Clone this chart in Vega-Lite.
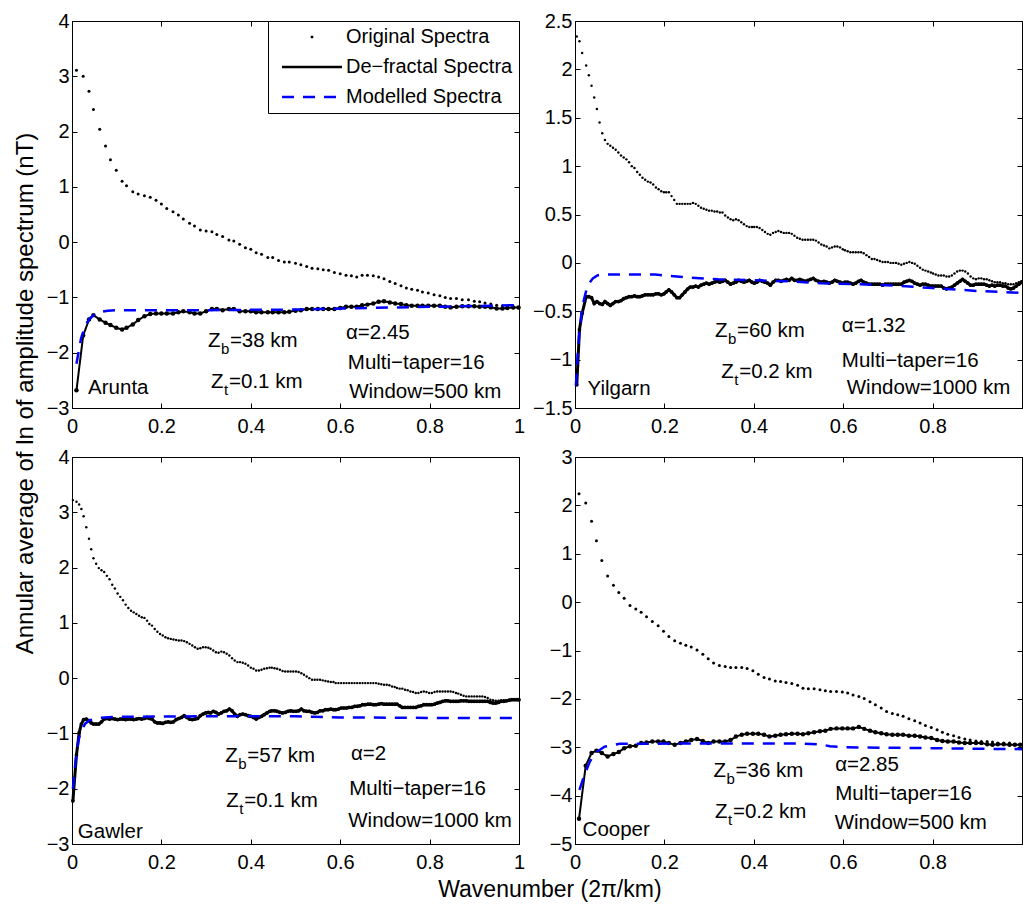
{
"$schema": "https://vega.github.io/schema/vega-lite/v6.json",
"padding": {"left": 13, "top": 10, "right": 0, "bottom": 0},
"background": "white",
"config": {
 "view": {"stroke": "black", "strokeWidth": 1},
 "font": "Liberation Sans",
 "axis": {"domainColor": "black", "domainWidth": 1, "tickColor": "black", "tickSize": -5, "tickWidth": 1, "labelColor": "black", "labelFont": "Liberation Sans", "labelFontSize": 20, "grid": false, "labelFlush": false, "labelOverlap": false, "labelBound": false},
 "axisX": {"labelPadding": 13},
 "axisY": {"labelPadding": 8},
 "title": {"font": "Liberation Sans", "fontSize": 23, "fontWeight": "normal", "color": "black"},
 "text": {"font": "Liberation Sans", "color": "black"}
},
"datasets": {
 "A": [
  {"x":0.010,"o":3.11,"d":-2.68},{"x":0.025,"o":3.00,"d":-1.69},{"x":0.038,"o":2.73,"d":-1.40},{"x":0.048,"o":2.40,"d":-1.32},{"x":0.062,"o":2.04,"d":-1.40},{"x":0.075,"o":1.74,"d":-1.46},{"x":0.086,"o":1.49,"d":-1.50},{"x":0.099,"o":1.30,"d":-1.55},{"x":0.112,"o":1.10,"d":-1.58},{"x":0.122,"o":1.02,"d":-1.55},{"x":0.136,"o":0.91,"d":-1.49},{"x":0.148,"o":0.87,"d":-1.41},{"x":0.162,"o":0.84,"d":-1.34},{"x":0.175,"o":0.81,"d":-1.30},{"x":0.188,"o":0.76,"d":-1.29},{"x":0.200,"o":0.69,"d":-1.29},{"x":0.212,"o":0.61,"d":-1.29},{"x":0.226,"o":0.55,"d":-1.29},{"x":0.238,"o":0.49,"d":-1.27},{"x":0.249,"o":0.42,"d":-1.25},{"x":0.263,"o":0.34,"d":-1.27},{"x":0.274,"o":0.29,"d":-1.29},{"x":0.287,"o":0.22,"d":-1.29},{"x":0.300,"o":0.20,"d":-1.25},{"x":0.313,"o":0.19,"d":-1.21},{"x":0.324,"o":0.14,"d":-1.21},{"x":0.337,"o":0.10,"d":-1.23},{"x":0.351,"o":0.04,"d":-1.21},{"x":0.362,"o":0.02,"d":-1.21},{"x":0.375,"o":-0.04,"d":-1.25},{"x":0.388,"o":-0.10,"d":-1.25},{"x":0.400,"o":-0.13,"d":-1.25},{"x":0.412,"o":-0.19,"d":-1.27},{"x":0.424,"o":-0.22,"d":-1.27},{"x":0.438,"o":-0.28,"d":-1.27},{"x":0.449,"o":-0.28,"d":-1.27},{"x":0.462,"o":-0.33,"d":-1.27},{"x":0.475,"o":-0.36,"d":-1.27},{"x":0.486,"o":-0.36,"d":-1.26},{"x":0.500,"o":-0.38,"d":-1.24},{"x":0.512,"o":-0.41,"d":-1.23},{"x":0.525,"o":-0.44,"d":-1.21},{"x":0.537,"o":-0.47,"d":-1.21},{"x":0.550,"o":-0.48,"d":-1.21},{"x":0.562,"o":-0.50,"d":-1.21},{"x":0.574,"o":-0.51,"d":-1.21},{"x":0.587,"o":-0.55,"d":-1.21},{"x":0.600,"o":-0.57,"d":-1.19},{"x":0.613,"o":-0.60,"d":-1.17},{"x":0.625,"o":-0.61,"d":-1.17},{"x":0.637,"o":-0.63,"d":-1.17},{"x":0.649,"o":-0.60,"d":-1.14},{"x":0.661,"o":-0.60,"d":-1.13},{"x":0.674,"o":-0.61,"d":-1.11},{"x":0.686,"o":-0.63,"d":-1.08},{"x":0.698,"o":-0.66,"d":-1.07},{"x":0.711,"o":-0.71,"d":-1.09},{"x":0.723,"o":-0.75,"d":-1.11},{"x":0.736,"o":-0.79,"d":-1.12},{"x":0.748,"o":-0.83,"d":-1.14},{"x":0.760,"o":-0.85,"d":-1.15},{"x":0.773,"o":-0.87,"d":-1.15},{"x":0.784,"o":-0.90,"d":-1.15},{"x":0.797,"o":-0.92,"d":-1.15},{"x":0.810,"o":-0.95,"d":-1.15},{"x":0.823,"o":-0.97,"d":-1.15},{"x":0.835,"o":-1.00,"d":-1.17},{"x":0.847,"o":-1.02,"d":-1.18},{"x":0.860,"o":-1.02,"d":-1.17},{"x":0.873,"o":-1.04,"d":-1.16},{"x":0.887,"o":-1.04,"d":-1.16},{"x":0.900,"o":-1.07,"d":-1.16},{"x":0.912,"o":-1.08,"d":-1.17},{"x":0.924,"o":-1.10,"d":-1.17},{"x":0.937,"o":-1.12,"d":-1.18},{"x":0.950,"o":-1.14,"d":-1.20},{"x":0.963,"o":-1.15,"d":-1.20},{"x":0.974,"o":-1.17,"d":-1.19},{"x":0.987,"o":-1.19,"d":-1.18},{"x":0.999,"o":-1.19,"d":-1.18}
 ],
 "Am": [{"x":0.01,"m":-2.2},{"x":0.02,"m":-1.75},{"x":0.03,"m":-1.5},{"x":0.04,"m":-1.38},{"x":0.05,"m":-1.31},{"x":0.06,"m":-1.27},{"x":0.08,"m":-1.24},{"x":0.1,"m":-1.23},{"x":0.3,"m":-1.23},{"x":0.5,"m":-1.22},{"x":0.6,"m":-1.2},{"x":0.8,"m":-1.17},{"x":1.0,"m":-1.14}],
 "At": [{"x":0.613,"y":-1.65,"t":"α=2.45"},{"x":0.617,"y":-2.18,"t":"Multi−taper=16"},{"x":0.62,"y":-2.71,"t":"Window=500 km"},{"x":0.036,"y":-2.64,"t":"Arunta"}],
 "Az": [{"x":0.304,"y":-1.79,"s":"b","r":"=38 km"},{"x":0.311,"y":-2.53,"s":"t","r":"=0.1 km"}],
 "Y": [
  {"x":0.004,"o":2.34,"d":-1.26},{"x":0.010,"o":2.29,"d":-0.69},{"x":0.016,"o":2.17,"d":-0.52},{"x":0.025,"o":2.04,"d":-0.35},{"x":0.031,"o":1.94,"d":-0.35},{"x":0.037,"o":1.83,"d":-0.36},{"x":0.043,"o":1.71,"d":-0.42},{"x":0.049,"o":1.59,"d":-0.40},{"x":0.055,"o":1.45,"d":-0.42},{"x":0.061,"o":1.34,"d":-0.43},{"x":0.067,"o":1.27,"d":-0.40},{"x":0.073,"o":1.23,"d":-0.42},{"x":0.079,"o":1.21,"d":-0.44},{"x":0.085,"o":1.19,"d":-0.42},{"x":0.091,"o":1.17,"d":-0.40},{"x":0.097,"o":1.14,"d":-0.40},{"x":0.103,"o":1.11,"d":-0.39},{"x":0.109,"o":1.09,"d":-0.37},{"x":0.115,"o":1.07,"d":-0.36},{"x":0.121,"o":1.04,"d":-0.35},{"x":0.127,"o":1.00,"d":-0.35},{"x":0.133,"o":0.98,"d":-0.34},{"x":0.139,"o":0.94,"d":-0.35},{"x":0.145,"o":0.91,"d":-0.35},{"x":0.151,"o":0.88,"d":-0.34},{"x":0.157,"o":0.86,"d":-0.33},{"x":0.163,"o":0.84,"d":-0.33},{"x":0.169,"o":0.83,"d":-0.33},{"x":0.175,"o":0.81,"d":-0.33},{"x":0.181,"o":0.78,"d":-0.32},{"x":0.187,"o":0.76,"d":-0.32},{"x":0.193,"o":0.74,"d":-0.33},{"x":0.199,"o":0.73,"d":-0.32},{"x":0.204,"o":0.73,"d":-0.30},{"x":0.210,"o":0.73,"d":-0.28},{"x":0.216,"o":0.69,"d":-0.30},{"x":0.222,"o":0.65,"d":-0.33},{"x":0.228,"o":0.61,"d":-0.36},{"x":0.234,"o":0.61,"d":-0.36},{"x":0.240,"o":0.61,"d":-0.33},{"x":0.246,"o":0.61,"d":-0.30},{"x":0.252,"o":0.61,"d":-0.27},{"x":0.258,"o":0.61,"d":-0.25},{"x":0.264,"o":0.62,"d":-0.25},{"x":0.270,"o":0.61,"d":-0.24},{"x":0.276,"o":0.59,"d":-0.25},{"x":0.282,"o":0.57,"d":-0.23},{"x":0.288,"o":0.56,"d":-0.22},{"x":0.294,"o":0.55,"d":-0.21},{"x":0.300,"o":0.54,"d":-0.22},{"x":0.306,"o":0.54,"d":-0.21},{"x":0.312,"o":0.53,"d":-0.20},{"x":0.318,"o":0.53,"d":-0.19},{"x":0.324,"o":0.52,"d":-0.20},{"x":0.330,"o":0.52,"d":-0.19},{"x":0.336,"o":0.49,"d":-0.18},{"x":0.342,"o":0.47,"d":-0.20},{"x":0.348,"o":0.45,"d":-0.22},{"x":0.354,"o":0.44,"d":-0.21},{"x":0.360,"o":0.45,"d":-0.20},{"x":0.366,"o":0.44,"d":-0.18},{"x":0.372,"o":0.42,"d":-0.19},{"x":0.378,"o":0.40,"d":-0.20},{"x":0.384,"o":0.38,"d":-0.19},{"x":0.390,"o":0.37,"d":-0.18},{"x":0.396,"o":0.37,"d":-0.20},{"x":0.401,"o":0.37,"d":-0.21},{"x":0.407,"o":0.37,"d":-0.20},{"x":0.413,"o":0.36,"d":-0.18},{"x":0.419,"o":0.34,"d":-0.19},{"x":0.425,"o":0.32,"d":-0.20},{"x":0.431,"o":0.30,"d":-0.21},{"x":0.437,"o":0.29,"d":-0.23},{"x":0.443,"o":0.31,"d":-0.20},{"x":0.449,"o":0.32,"d":-0.18},{"x":0.455,"o":0.33,"d":-0.18},{"x":0.461,"o":0.32,"d":-0.19},{"x":0.467,"o":0.31,"d":-0.18},{"x":0.473,"o":0.31,"d":-0.17},{"x":0.479,"o":0.31,"d":-0.18},{"x":0.485,"o":0.30,"d":-0.16},{"x":0.491,"o":0.28,"d":-0.18},{"x":0.497,"o":0.26,"d":-0.18},{"x":0.503,"o":0.25,"d":-0.17},{"x":0.509,"o":0.24,"d":-0.18},{"x":0.515,"o":0.24,"d":-0.19},{"x":0.521,"o":0.24,"d":-0.18},{"x":0.527,"o":0.24,"d":-0.17},{"x":0.533,"o":0.24,"d":-0.16},{"x":0.539,"o":0.23,"d":-0.18},{"x":0.545,"o":0.21,"d":-0.19},{"x":0.551,"o":0.19,"d":-0.20},{"x":0.557,"o":0.18,"d":-0.19},{"x":0.563,"o":0.17,"d":-0.20},{"x":0.569,"o":0.15,"d":-0.21},{"x":0.575,"o":0.16,"d":-0.20},{"x":0.581,"o":0.17,"d":-0.18},{"x":0.587,"o":0.17,"d":-0.19},{"x":0.593,"o":0.16,"d":-0.20},{"x":0.599,"o":0.14,"d":-0.21},{"x":0.604,"o":0.13,"d":-0.20},{"x":0.610,"o":0.12,"d":-0.20},{"x":0.616,"o":0.11,"d":-0.21},{"x":0.622,"o":0.11,"d":-0.22},{"x":0.628,"o":0.11,"d":-0.21},{"x":0.634,"o":0.11,"d":-0.19},{"x":0.640,"o":0.11,"d":-0.18},{"x":0.646,"o":0.10,"d":-0.20},{"x":0.652,"o":0.08,"d":-0.21},{"x":0.658,"o":0.06,"d":-0.22},{"x":0.664,"o":0.04,"d":-0.22},{"x":0.670,"o":0.04,"d":-0.22},{"x":0.676,"o":0.03,"d":-0.22},{"x":0.682,"o":0.02,"d":-0.22},{"x":0.688,"o":0.01,"d":-0.23},{"x":0.694,"o":0.01,"d":-0.22},{"x":0.700,"o":0.01,"d":-0.22},{"x":0.706,"o":0.00,"d":-0.22},{"x":0.712,"o":0.00,"d":-0.22},{"x":0.718,"o":0.00,"d":-0.22},{"x":0.724,"o":-0.01,"d":-0.22},{"x":0.730,"o":-0.02,"d":-0.22},{"x":0.736,"o":-0.01,"d":-0.20},{"x":0.742,"o":0.00,"d":-0.19},{"x":0.748,"o":0.01,"d":-0.18},{"x":0.754,"o":0.00,"d":-0.19},{"x":0.760,"o":-0.01,"d":-0.21},{"x":0.766,"o":-0.03,"d":-0.22},{"x":0.772,"o":-0.05,"d":-0.23},{"x":0.778,"o":-0.07,"d":-0.22},{"x":0.784,"o":-0.08,"d":-0.22},{"x":0.790,"o":-0.09,"d":-0.23},{"x":0.796,"o":-0.10,"d":-0.24},{"x":0.801,"o":-0.11,"d":-0.24},{"x":0.807,"o":-0.12,"d":-0.24},{"x":0.813,"o":-0.13,"d":-0.24},{"x":0.819,"o":-0.13,"d":-0.24},{"x":0.825,"o":-0.13,"d":-0.26},{"x":0.831,"o":-0.14,"d":-0.27},{"x":0.837,"o":-0.14,"d":-0.26},{"x":0.843,"o":-0.13,"d":-0.25},{"x":0.849,"o":-0.11,"d":-0.23},{"x":0.855,"o":-0.09,"d":-0.21},{"x":0.861,"o":-0.08,"d":-0.19},{"x":0.867,"o":-0.08,"d":-0.17},{"x":0.873,"o":-0.09,"d":-0.19},{"x":0.879,"o":-0.11,"d":-0.21},{"x":0.885,"o":-0.14,"d":-0.23},{"x":0.891,"o":-0.16,"d":-0.23},{"x":0.897,"o":-0.17,"d":-0.22},{"x":0.903,"o":-0.16,"d":-0.22},{"x":0.909,"o":-0.16,"d":-0.22},{"x":0.915,"o":-0.17,"d":-0.22},{"x":0.921,"o":-0.17,"d":-0.23},{"x":0.927,"o":-0.18,"d":-0.24},{"x":0.933,"o":-0.19,"d":-0.23},{"x":0.939,"o":-0.20,"d":-0.24},{"x":0.945,"o":-0.20,"d":-0.23},{"x":0.951,"o":-0.20,"d":-0.23},{"x":0.957,"o":-0.21,"d":-0.24},{"x":0.963,"o":-0.21,"d":-0.24},{"x":0.969,"o":-0.22,"d":-0.26},{"x":0.975,"o":-0.22,"d":-0.27},{"x":0.981,"o":-0.22,"d":-0.26},{"x":0.987,"o":-0.21,"d":-0.24},{"x":0.993,"o":-0.20,"d":-0.22},{"x":0.999,"o":-0.19,"d":-0.20}
 ],
 "Ym": [{"x":0.002,"m":-1.27},{"x":0.006,"m":-0.95},{"x":0.01,"m":-0.71},{"x":0.015,"m":-0.5},{"x":0.02,"m":-0.38},{"x":0.026,"m":-0.27},{"x":0.032,"m":-0.21},{"x":0.04,"m":-0.16},{"x":0.05,"m":-0.13},{"x":0.06,"m":-0.12},{"x":0.1,"m":-0.12},{"x":0.18,"m":-0.12},{"x":0.2,"m":-0.13},{"x":0.25,"m":-0.15},{"x":0.32,"m":-0.17},{"x":0.4,"m":-0.18},{"x":0.48,"m":-0.19},{"x":0.55,"m":-0.21},{"x":0.62,"m":-0.22},{"x":0.7,"m":-0.23},{"x":0.8,"m":-0.26},{"x":0.9,"m":-0.29},{"x":1.0,"m":-0.31}],
 "Yt": [{"x":0.597,"y":-0.65,"t":"α=1.32"},{"x":0.597,"y":-1.01,"t":"Multi−taper=16"},{"x":0.608,"y":-1.29,"t":"Window=1000 km"},{"x":0.028,"y":-1.30,"t":"Yilgarn"}],
 "Yz": [{"x":0.313,"y":-0.70,"s":"b","r":"=60 km"},{"x":0.327,"y":-1.13,"s":"t","r":"=0.2 km"}],
 "G": [
  {"x":0.002,"o":3.22,"d":-2.22},{"x":0.010,"o":3.19,"d":-1.39},{"x":0.016,"o":3.14,"d":-0.99},{"x":0.021,"o":3.06,"d":-0.83},{"x":0.026,"o":2.93,"d":-0.75},{"x":0.032,"o":2.73,"d":-0.74},{"x":0.038,"o":2.52,"d":-0.77},{"x":0.043,"o":2.33,"d":-0.81},{"x":0.048,"o":2.17,"d":-0.83},{"x":0.054,"o":2.07,"d":-0.83},{"x":0.060,"o":1.99,"d":-0.83},{"x":0.066,"o":1.95,"d":-0.79},{"x":0.072,"o":1.92,"d":-0.74},{"x":0.078,"o":1.85,"d":-0.73},{"x":0.084,"o":1.79,"d":-0.74},{"x":0.090,"o":1.69,"d":-0.73},{"x":0.096,"o":1.62,"d":-0.74},{"x":0.102,"o":1.53,"d":-0.75},{"x":0.108,"o":1.47,"d":-0.74},{"x":0.114,"o":1.41,"d":-0.74},{"x":0.120,"o":1.33,"d":-0.75},{"x":0.126,"o":1.27,"d":-0.74},{"x":0.132,"o":1.22,"d":-0.74},{"x":0.138,"o":1.19,"d":-0.75},{"x":0.144,"o":1.16,"d":-0.74},{"x":0.150,"o":1.13,"d":-0.73},{"x":0.156,"o":1.10,"d":-0.74},{"x":0.162,"o":1.09,"d":-0.73},{"x":0.168,"o":1.04,"d":-0.71},{"x":0.173,"o":0.98,"d":-0.73},{"x":0.179,"o":0.95,"d":-0.74},{"x":0.185,"o":0.89,"d":-0.79},{"x":0.191,"o":0.84,"d":-0.81},{"x":0.197,"o":0.80,"d":-0.81},{"x":0.203,"o":0.77,"d":-0.82},{"x":0.209,"o":0.74,"d":-0.80},{"x":0.215,"o":0.72,"d":-0.79},{"x":0.221,"o":0.71,"d":-0.80},{"x":0.227,"o":0.70,"d":-0.79},{"x":0.233,"o":0.69,"d":-0.75},{"x":0.239,"o":0.68,"d":-0.73},{"x":0.245,"o":0.68,"d":-0.71},{"x":0.251,"o":0.67,"d":-0.68},{"x":0.257,"o":0.65,"d":-0.71},{"x":0.263,"o":0.62,"d":-0.74},{"x":0.269,"o":0.59,"d":-0.75},{"x":0.275,"o":0.56,"d":-0.74},{"x":0.281,"o":0.53,"d":-0.73},{"x":0.287,"o":0.54,"d":-0.68},{"x":0.293,"o":0.56,"d":-0.65},{"x":0.299,"o":0.56,"d":-0.63},{"x":0.305,"o":0.55,"d":-0.62},{"x":0.310,"o":0.53,"d":-0.63},{"x":0.316,"o":0.50,"d":-0.60},{"x":0.322,"o":0.47,"d":-0.62},{"x":0.328,"o":0.46,"d":-0.65},{"x":0.334,"o":0.48,"d":-0.63},{"x":0.340,"o":0.47,"d":-0.60},{"x":0.346,"o":0.44,"d":-0.59},{"x":0.352,"o":0.41,"d":-0.56},{"x":0.358,"o":0.36,"d":-0.59},{"x":0.364,"o":0.32,"d":-0.65},{"x":0.370,"o":0.29,"d":-0.69},{"x":0.376,"o":0.29,"d":-0.66},{"x":0.382,"o":0.28,"d":-0.65},{"x":0.388,"o":0.26,"d":-0.66},{"x":0.394,"o":0.23,"d":-0.68},{"x":0.400,"o":0.19,"d":-0.69},{"x":0.406,"o":0.17,"d":-0.71},{"x":0.412,"o":0.14,"d":-0.74},{"x":0.418,"o":0.14,"d":-0.71},{"x":0.424,"o":0.15,"d":-0.69},{"x":0.430,"o":0.17,"d":-0.66},{"x":0.436,"o":0.18,"d":-0.63},{"x":0.442,"o":0.19,"d":-0.60},{"x":0.447,"o":0.19,"d":-0.59},{"x":0.453,"o":0.18,"d":-0.59},{"x":0.459,"o":0.17,"d":-0.60},{"x":0.465,"o":0.15,"d":-0.62},{"x":0.471,"o":0.13,"d":-0.63},{"x":0.477,"o":0.12,"d":-0.62},{"x":0.483,"o":0.12,"d":-0.60},{"x":0.489,"o":0.12,"d":-0.59},{"x":0.495,"o":0.12,"d":-0.60},{"x":0.501,"o":0.12,"d":-0.60},{"x":0.507,"o":0.11,"d":-0.59},{"x":0.513,"o":0.09,"d":-0.56},{"x":0.519,"o":0.06,"d":-0.59},{"x":0.525,"o":0.03,"d":-0.60},{"x":0.531,"o":0.00,"d":-0.60},{"x":0.537,"o":-0.03,"d":-0.62},{"x":0.543,"o":-0.03,"d":-0.63},{"x":0.549,"o":-0.03,"d":-0.62},{"x":0.555,"o":-0.03,"d":-0.59},{"x":0.561,"o":-0.04,"d":-0.59},{"x":0.567,"o":-0.05,"d":-0.57},{"x":0.573,"o":-0.06,"d":-0.57},{"x":0.579,"o":-0.07,"d":-0.56},{"x":0.585,"o":-0.07,"d":-0.57},{"x":0.590,"o":-0.09,"d":-0.57},{"x":0.596,"o":-0.09,"d":-0.56},{"x":0.602,"o":-0.09,"d":-0.54},{"x":0.608,"o":-0.09,"d":-0.54},{"x":0.614,"o":-0.09,"d":-0.54},{"x":0.620,"o":-0.09,"d":-0.53},{"x":0.626,"o":-0.09,"d":-0.53},{"x":0.632,"o":-0.09,"d":-0.51},{"x":0.638,"o":-0.09,"d":-0.51},{"x":0.644,"o":-0.09,"d":-0.50},{"x":0.650,"o":-0.09,"d":-0.48},{"x":0.656,"o":-0.09,"d":-0.48},{"x":0.662,"o":-0.09,"d":-0.47},{"x":0.668,"o":-0.09,"d":-0.47},{"x":0.674,"o":-0.09,"d":-0.48},{"x":0.680,"o":-0.09,"d":-0.48},{"x":0.686,"o":-0.10,"d":-0.47},{"x":0.692,"o":-0.11,"d":-0.46},{"x":0.698,"o":-0.12,"d":-0.47},{"x":0.704,"o":-0.12,"d":-0.47},{"x":0.710,"o":-0.13,"d":-0.47},{"x":0.716,"o":-0.15,"d":-0.47},{"x":0.722,"o":-0.16,"d":-0.47},{"x":0.727,"o":-0.18,"d":-0.47},{"x":0.733,"o":-0.19,"d":-0.50},{"x":0.739,"o":-0.19,"d":-0.53},{"x":0.745,"o":-0.21,"d":-0.53},{"x":0.751,"o":-0.22,"d":-0.53},{"x":0.757,"o":-0.24,"d":-0.53},{"x":0.763,"o":-0.25,"d":-0.53},{"x":0.769,"o":-0.27,"d":-0.53},{"x":0.775,"o":-0.27,"d":-0.51},{"x":0.781,"o":-0.25,"d":-0.50},{"x":0.787,"o":-0.24,"d":-0.48},{"x":0.793,"o":-0.25,"d":-0.48},{"x":0.799,"o":-0.27,"d":-0.48},{"x":0.805,"o":-0.27,"d":-0.48},{"x":0.811,"o":-0.25,"d":-0.47},{"x":0.817,"o":-0.24,"d":-0.45},{"x":0.823,"o":-0.24,"d":-0.44},{"x":0.829,"o":-0.24,"d":-0.42},{"x":0.835,"o":-0.24,"d":-0.41},{"x":0.841,"o":-0.24,"d":-0.41},{"x":0.847,"o":-0.24,"d":-0.42},{"x":0.853,"o":-0.25,"d":-0.42},{"x":0.859,"o":-0.27,"d":-0.42},{"x":0.864,"o":-0.28,"d":-0.42},{"x":0.870,"o":-0.30,"d":-0.41},{"x":0.876,"o":-0.32,"d":-0.41},{"x":0.882,"o":-0.33,"d":-0.41},{"x":0.888,"o":-0.33,"d":-0.42},{"x":0.894,"o":-0.33,"d":-0.42},{"x":0.900,"o":-0.33,"d":-0.42},{"x":0.906,"o":-0.33,"d":-0.42},{"x":0.912,"o":-0.33,"d":-0.42},{"x":0.918,"o":-0.33,"d":-0.42},{"x":0.924,"o":-0.34,"d":-0.42},{"x":0.930,"o":-0.36,"d":-0.42},{"x":0.936,"o":-0.39,"d":-0.44},{"x":0.942,"o":-0.40,"d":-0.45},{"x":0.948,"o":-0.41,"d":-0.45},{"x":0.954,"o":-0.41,"d":-0.44},{"x":0.960,"o":-0.40,"d":-0.42},{"x":0.966,"o":-0.40,"d":-0.42},{"x":0.972,"o":-0.40,"d":-0.41},{"x":0.978,"o":-0.39,"d":-0.40},{"x":0.984,"o":-0.39,"d":-0.39},{"x":0.990,"o":-0.39,"d":-0.39},{"x":0.996,"o":-0.39,"d":-0.39},{"x":1.000,"o":-0.39,"d":-0.39}
 ],
 "Gm": [{"x":0.002,"m":-2.0},{"x":0.008,"m":-1.5},{"x":0.014,"m":-1.15},{"x":0.02,"m":-0.95},{"x":0.03,"m":-0.82},{"x":0.04,"m":-0.76},{"x":0.06,"m":-0.72},{"x":0.1,"m":-0.7},{"x":0.3,"m":-0.69},{"x":0.5,"m":-0.69},{"x":0.6,"m":-0.71},{"x":0.8,"m":-0.72},{"x":1.0,"m":-0.72}],
 "Gt": [{"x":0.624,"y":-1.38,"t":"α=2"},{"x":0.62,"y":-2.00,"t":"Multi−taper=16"},{"x":0.618,"y":-2.58,"t":"Window=1000 km"},{"x":0.013,"y":-2.78,"t":"Gawler"}],
 "Gz": [{"x":0.343,"y":-1.40,"s":"b","r":"=57 km"},{"x":0.345,"y":-2.23,"s":"t","r":"=0.1 km"}],
 "C": [
  {"x":0.009,"o":2.24,"d":-4.48},{"x":0.024,"o":2.05,"d":-3.38},{"x":0.037,"o":1.67,"d":-3.12},{"x":0.048,"o":1.27,"d":-3.07},{"x":0.060,"o":0.86,"d":-3.12},{"x":0.073,"o":0.54,"d":-3.19},{"x":0.086,"o":0.35,"d":-3.14},{"x":0.098,"o":0.20,"d":-3.10},{"x":0.110,"o":0.08,"d":-3.02},{"x":0.123,"o":-0.07,"d":-2.98},{"x":0.136,"o":-0.14,"d":-2.97},{"x":0.148,"o":-0.21,"d":-2.91},{"x":0.160,"o":-0.30,"d":-2.90},{"x":0.173,"o":-0.40,"d":-2.88},{"x":0.186,"o":-0.49,"d":-2.88},{"x":0.198,"o":-0.60,"d":-2.88},{"x":0.210,"o":-0.71,"d":-2.91},{"x":0.223,"o":-0.80,"d":-2.95},{"x":0.236,"o":-0.85,"d":-2.91},{"x":0.248,"o":-0.89,"d":-2.88},{"x":0.260,"o":-0.93,"d":-2.85},{"x":0.273,"o":-0.99,"d":-2.83},{"x":0.286,"o":-1.08,"d":-2.87},{"x":0.298,"o":-1.17,"d":-2.91},{"x":0.310,"o":-1.26,"d":-2.88},{"x":0.323,"o":-1.31,"d":-2.88},{"x":0.336,"o":-1.33,"d":-2.88},{"x":0.348,"o":-1.35,"d":-2.85},{"x":0.360,"o":-1.35,"d":-2.78},{"x":0.373,"o":-1.35,"d":-2.74},{"x":0.385,"o":-1.37,"d":-2.72},{"x":0.398,"o":-1.42,"d":-2.72},{"x":0.410,"o":-1.49,"d":-2.72},{"x":0.423,"o":-1.56,"d":-2.74},{"x":0.435,"o":-1.59,"d":-2.78},{"x":0.448,"o":-1.63,"d":-2.76},{"x":0.460,"o":-1.64,"d":-2.74},{"x":0.472,"o":-1.66,"d":-2.73},{"x":0.485,"o":-1.68,"d":-2.72},{"x":0.498,"o":-1.72,"d":-2.72},{"x":0.510,"o":-1.78,"d":-2.73},{"x":0.522,"o":-1.79,"d":-2.71},{"x":0.535,"o":-1.79,"d":-2.69},{"x":0.548,"o":-1.81,"d":-2.67},{"x":0.560,"o":-1.83,"d":-2.66},{"x":0.572,"o":-1.85,"d":-2.62},{"x":0.585,"o":-1.85,"d":-2.61},{"x":0.598,"o":-1.86,"d":-2.61},{"x":0.610,"o":-1.88,"d":-2.61},{"x":0.622,"o":-1.92,"d":-2.61},{"x":0.635,"o":-1.95,"d":-2.58},{"x":0.647,"o":-1.99,"d":-2.62},{"x":0.660,"o":-2.06,"d":-2.66},{"x":0.672,"o":-2.12,"d":-2.69},{"x":0.685,"o":-2.19,"d":-2.71},{"x":0.697,"o":-2.26,"d":-2.73},{"x":0.710,"o":-2.30,"d":-2.74},{"x":0.722,"o":-2.33,"d":-2.74},{"x":0.734,"o":-2.36,"d":-2.74},{"x":0.747,"o":-2.41,"d":-2.76},{"x":0.760,"o":-2.45,"d":-2.76},{"x":0.772,"o":-2.50,"d":-2.78},{"x":0.784,"o":-2.55,"d":-2.80},{"x":0.797,"o":-2.59,"d":-2.81},{"x":0.810,"o":-2.64,"d":-2.85},{"x":0.822,"o":-2.69,"d":-2.87},{"x":0.834,"o":-2.73,"d":-2.88},{"x":0.847,"o":-2.76,"d":-2.88},{"x":0.859,"o":-2.80,"d":-2.90},{"x":0.872,"o":-2.83,"d":-2.91},{"x":0.884,"o":-2.85,"d":-2.91},{"x":0.897,"o":-2.87,"d":-2.91},{"x":0.909,"o":-2.88,"d":-2.91},{"x":0.922,"o":-2.88,"d":-2.94},{"x":0.934,"o":-2.89,"d":-2.95},{"x":0.946,"o":-2.91,"d":-2.94},{"x":0.959,"o":-2.91,"d":-2.94},{"x":0.972,"o":-2.91,"d":-2.95},{"x":0.984,"o":-2.94,"d":-2.95},{"x":0.996,"o":-2.94,"d":-2.95}
 ],
 "Cm": [{"x":0.01,"m":-3.88},{"x":0.02,"m":-3.6},{"x":0.033,"m":-3.3},{"x":0.045,"m":-3.12},{"x":0.066,"m":-2.99},{"x":0.1,"m":-2.93},{"x":0.3,"m":-2.92},{"x":0.5,"m":-2.92},{"x":0.55,"m":-2.94},{"x":0.57,"m":-2.98},{"x":0.6,"m":-3.0},{"x":0.8,"m":-3.02},{"x":1.0,"m":-3.04}],
 "Ct": [{"x":0.582,"y":-3.36,"t":"α=2.85"},{"x":0.582,"y":-3.97,"t":"Multi−taper=16"},{"x":0.581,"y":-4.57,"t":"Window=500 km"},{"x":0.017,"y":-4.72,"t":"Cooper"}],
 "Cz": [{"x":0.31,"y":-3.50,"s":"b","r":"=36 km"},{"x":0.313,"y":-4.34,"s":"t","r":"=0.2 km"}]
},
"title": {"text": "Wavenumber (2π/km)", "orient": "bottom", "anchor": "middle", "offset": 6, "dx": 29},
"vconcat": [
{
"title": {"text": "Annular average of ln of amplitude spectrum (nT)", "orient": "left", "anchor": "middle", "offset": 8, "dx": 48, "fontSize": 24},
"columns": 2,
"spacing": {"row": 49, "column": 56},
"bounds": "flush",
"resolve": {"scale": {"color": "independent", "strokeDash": "independent"}},
"concat": [
{
 "width": 447, "height": 387,
 "layer": [
  {
   "encoding": {
    "x": {"field": "x", "type": "quantitative", "scale": {"domain": [0, 1], "nice": false, "zero": false}, "axis": {"title": null, "values": [0, 0.2, 0.4, 0.6, 0.8, 1], "format": "~g"}},
    "y": {"field": "y", "type": "quantitative", "scale": {"domain": [-3, 4], "nice": false, "zero": false}, "axis": {"title": null, "values": [-3, -2, -1, 0, 1, 2, 3, 4], "format": "~g"}}
   },
   "layer": [
    {"data": {"name": "A"}, "transform": [{"fold": ["o"], "as": ["series", "y"]}], "mark": {"type": "point", "filled": true, "size": 9, "opacity": 1},
     "encoding": {"color": {"field": "series", "type": "nominal", "scale": {"domain": ["o", "d", "m"], "range": ["#000000", "#000000", "#0000ff"]},
      "legend": {"title": null, "orient": "top-right", "offset": 0, "padding": 6, "strokeColor": "black", "fillColor": "white",
       "labelExpr": "datum.value === 'o' ? 'Original Spectra' : datum.value === 'd' ? 'De−fractal Spectra' : 'Modelled Spectra'",
       "labelFontSize": 20, "labelFont": "Liberation Sans", "labelColor": "black", "labelLimit": 400, "labelBaseline": "middle",
       "symbolType": "M-6,0H6", "symbolSize": 100, "symbolOffset": 28, "labelOffset": 24, "rowPadding": 10, "symbolStrokeWidth": 2.5
      }}}},
    {"data": {"name": "A"}, "transform": [{"fold": ["d"], "as": ["series", "y"]}], "mark": {"type": "line", "strokeWidth": 2, "point": {"filled": true, "size": 20, "opacity": 1}},
     "encoding": {"color": {"field": "series", "type": "nominal", "scale": {"domain": ["o", "d", "m"], "range": ["#000000", "#000000", "#0000ff"]}},
      "strokeDash": {"field": "series", "type": "nominal", "scale": {"domain": ["o", "d", "m"], "range": [[0, 28.75, 2.5, 100], [1, 0], [12, 9]]}}}},
    {"data": {"name": "Am"}, "transform": [{"fold": ["m"], "as": ["series", "y"]}], "mark": {"type": "line", "strokeWidth": 2.5},
     "encoding": {"color": {"field": "series", "type": "nominal", "scale": {"domain": ["o", "d", "m"], "range": ["#000000", "#000000", "#0000ff"]}},
      "strokeDash": {"field": "series", "type": "nominal", "scale": {"domain": ["o", "d", "m"], "range": [[0, 28.75, 2.5, 100], [1, 0], [12, 9]]}}}},
    {"data": {"name": "At"}, "mark": {"type": "text", "align": "left", "baseline": "middle", "fontSize": 20.5}, "encoding": {"text": {"field": "t"}}},
    {"data": {"name": "Az"}, "mark": {"type": "text", "align": "left", "baseline": "middle", "fontSize": 20.5}, "encoding": {"text": {"value": "Z"}}},
    {"data": {"name": "Az"}, "mark": {"type": "text", "align": "left", "baseline": "middle", "fontSize": 15, "dx": 13, "dy": 8}, "encoding": {"text": {"field": "s"}}},
    {"data": {"name": "Az"}, "transform": [{"filter": "datum.s === 'b'"}], "mark": {"type": "text", "align": "left", "baseline": "middle", "fontSize": 20.5, "dx": 22}, "encoding": {"text": {"field": "r"}}},
    {"data": {"name": "Az"}, "transform": [{"filter": "datum.s === 't'"}], "mark": {"type": "text", "align": "left", "baseline": "middle", "fontSize": 20.5, "dx": 18}, "encoding": {"text": {"field": "r"}}}
   ]
  },
  {"data": {"name": "Am"}, "mark": {"type": "point", "opacity": 0},
   "encoding": {
    "x": {"field": "x", "type": "quantitative", "scale": {"domain": [0, 1], "nice": false, "zero": false}, "axis": {"title": null, "orient": "top", "labels": false, "values": [0, 0.2, 0.4, 0.6, 0.8, 1]}},
    "y": {"field": "m", "type": "quantitative", "scale": {"domain": [-3, 4], "nice": false, "zero": false}, "axis": {"title": null, "orient": "right", "labels": false, "values": [-3, -2, -1, 0, 1, 2, 3, 4]}}
   }}
 ],
 "resolve": {"axis": {"x": "independent", "y": "independent"}}
},
{
 "width": 447, "height": 387,
 "layer": [
  {
   "encoding": {
    "x": {"field": "x", "type": "quantitative", "scale": {"domain": [0, 1], "nice": false, "zero": false}, "axis": {"title": null, "values": [0, 0.2, 0.4, 0.6, 0.8], "format": "~g"}},
    "y": {"field": "y", "type": "quantitative", "scale": {"domain": [-1.5, 2.5], "nice": false, "zero": false}, "axis": {"title": null, "values": [-1.5, -1, -0.5, 0, 0.5, 1, 1.5, 2, 2.5], "format": "~g"}}
   },
   "layer": [
    {"data": {"name": "Y"}, "transform": [{"fold": ["o"], "as": ["series", "y"]}], "mark": {"type": "point", "filled": true, "size": 6, "opacity": 1, "color": "black"}},
    {"data": {"name": "Y"}, "transform": [{"fold": ["d"], "as": ["series", "y"]}], "mark": {"type": "line", "strokeWidth": 3, "color": "black", "point": {"filled": true, "size": 14, "opacity": 1, "color": "black"}}},
    {"data": {"name": "Ym"}, "transform": [{"fold": ["m"], "as": ["series", "y"]}], "mark": {"type": "line", "strokeWidth": 2.5, "strokeDash": [12, 9], "color": "#0000ff"}},
    {"data": {"name": "Yt"}, "mark": {"type": "text", "align": "left", "baseline": "middle", "fontSize": 20.5}, "encoding": {"text": {"field": "t"}}},
    {"data": {"name": "Yz"}, "mark": {"type": "text", "align": "left", "baseline": "middle", "fontSize": 20.5}, "encoding": {"text": {"value": "Z"}}},
    {"data": {"name": "Yz"}, "mark": {"type": "text", "align": "left", "baseline": "middle", "fontSize": 15, "dx": 13, "dy": 8}, "encoding": {"text": {"field": "s"}}},
    {"data": {"name": "Yz"}, "transform": [{"filter": "datum.s === 'b'"}], "mark": {"type": "text", "align": "left", "baseline": "middle", "fontSize": 20.5, "dx": 22}, "encoding": {"text": {"field": "r"}}},
    {"data": {"name": "Yz"}, "transform": [{"filter": "datum.s === 't'"}], "mark": {"type": "text", "align": "left", "baseline": "middle", "fontSize": 20.5, "dx": 18}, "encoding": {"text": {"field": "r"}}}
   ]
  },
  {"data": {"name": "Ym"}, "mark": {"type": "point", "opacity": 0},
   "encoding": {
    "x": {"field": "x", "type": "quantitative", "scale": {"domain": [0, 1], "nice": false, "zero": false}, "axis": {"title": null, "orient": "top", "labels": false, "values": [0, 0.2, 0.4, 0.6, 0.8, 1]}},
    "y": {"field": "m", "type": "quantitative", "scale": {"domain": [-1.5, 2.5], "nice": false, "zero": false}, "axis": {"title": null, "orient": "right", "labels": false, "values": [-1.5, -1, -0.5, 0, 0.5, 1, 1.5, 2, 2.5]}}
   }}
 ],
 "resolve": {"axis": {"x": "independent", "y": "independent"}}
},
{
 "width": 447, "height": 387,
 "layer": [
  {
   "encoding": {
    "x": {"field": "x", "type": "quantitative", "scale": {"domain": [0, 1], "nice": false, "zero": false}, "axis": {"title": null, "values": [0, 0.2, 0.4, 0.6, 0.8, 1], "format": "~g"}},
    "y": {"field": "y", "type": "quantitative", "scale": {"domain": [-3, 4], "nice": false, "zero": false}, "axis": {"title": null, "values": [-3, -2, -1, 0, 1, 2, 3, 4], "format": "~g"}}
   },
   "layer": [
    {"data": {"name": "G"}, "transform": [{"fold": ["o"], "as": ["series", "y"]}], "mark": {"type": "point", "filled": true, "size": 6, "opacity": 1, "color": "black"}},
    {"data": {"name": "G"}, "transform": [{"fold": ["d"], "as": ["series", "y"]}], "mark": {"type": "line", "strokeWidth": 3, "color": "black", "point": {"filled": true, "size": 14, "opacity": 1, "color": "black"}}},
    {"data": {"name": "Gm"}, "transform": [{"fold": ["m"], "as": ["series", "y"]}], "mark": {"type": "line", "strokeWidth": 2.5, "strokeDash": [12, 9], "color": "#0000ff"}},
    {"data": {"name": "Gt"}, "mark": {"type": "text", "align": "left", "baseline": "middle", "fontSize": 20.5}, "encoding": {"text": {"field": "t"}}},
    {"data": {"name": "Gz"}, "mark": {"type": "text", "align": "left", "baseline": "middle", "fontSize": 20.5}, "encoding": {"text": {"value": "Z"}}},
    {"data": {"name": "Gz"}, "mark": {"type": "text", "align": "left", "baseline": "middle", "fontSize": 15, "dx": 13, "dy": 8}, "encoding": {"text": {"field": "s"}}},
    {"data": {"name": "Gz"}, "transform": [{"filter": "datum.s === 'b'"}], "mark": {"type": "text", "align": "left", "baseline": "middle", "fontSize": 20.5, "dx": 22}, "encoding": {"text": {"field": "r"}}},
    {"data": {"name": "Gz"}, "transform": [{"filter": "datum.s === 't'"}], "mark": {"type": "text", "align": "left", "baseline": "middle", "fontSize": 20.5, "dx": 18}, "encoding": {"text": {"field": "r"}}}
   ]
  },
  {"data": {"name": "Gm"}, "mark": {"type": "point", "opacity": 0},
   "encoding": {
    "x": {"field": "x", "type": "quantitative", "scale": {"domain": [0, 1], "nice": false, "zero": false}, "axis": {"title": null, "orient": "top", "labels": false, "values": [0, 0.2, 0.4, 0.6, 0.8, 1]}},
    "y": {"field": "m", "type": "quantitative", "scale": {"domain": [-3, 4], "nice": false, "zero": false}, "axis": {"title": null, "orient": "right", "labels": false, "values": [-3, -2, -1, 0, 1, 2, 3, 4]}}
   }}
 ],
 "resolve": {"axis": {"x": "independent", "y": "independent"}}
},
{
 "width": 447, "height": 387,
 "layer": [
  {
   "encoding": {
    "x": {"field": "x", "type": "quantitative", "scale": {"domain": [0, 1], "nice": false, "zero": false}, "axis": {"title": null, "values": [0, 0.2, 0.4, 0.6, 0.8], "format": "~g"}},
    "y": {"field": "y", "type": "quantitative", "scale": {"domain": [-5, 3], "nice": false, "zero": false}, "axis": {"title": null, "values": [-5, -4, -3, -2, -1, 0, 1, 2, 3], "format": "~g"}}
   },
   "layer": [
    {"data": {"name": "C"}, "transform": [{"fold": ["o"], "as": ["series", "y"]}], "mark": {"type": "point", "filled": true, "size": 9, "opacity": 1, "color": "black"}},
    {"data": {"name": "C"}, "transform": [{"fold": ["d"], "as": ["series", "y"]}], "mark": {"type": "line", "strokeWidth": 2, "color": "black", "point": {"filled": true, "size": 20, "opacity": 1, "color": "black"}}},
    {"data": {"name": "Cm"}, "transform": [{"fold": ["m"], "as": ["series", "y"]}], "mark": {"type": "line", "strokeWidth": 2.5, "strokeDash": [12, 9], "color": "#0000ff"}},
    {"data": {"name": "Ct"}, "mark": {"type": "text", "align": "left", "baseline": "middle", "fontSize": 20.5}, "encoding": {"text": {"field": "t"}}},
    {"data": {"name": "Cz"}, "mark": {"type": "text", "align": "left", "baseline": "middle", "fontSize": 20.5}, "encoding": {"text": {"value": "Z"}}},
    {"data": {"name": "Cz"}, "mark": {"type": "text", "align": "left", "baseline": "middle", "fontSize": 15, "dx": 13, "dy": 8}, "encoding": {"text": {"field": "s"}}},
    {"data": {"name": "Cz"}, "transform": [{"filter": "datum.s === 'b'"}], "mark": {"type": "text", "align": "left", "baseline": "middle", "fontSize": 20.5, "dx": 22}, "encoding": {"text": {"field": "r"}}},
    {"data": {"name": "Cz"}, "transform": [{"filter": "datum.s === 't'"}], "mark": {"type": "text", "align": "left", "baseline": "middle", "fontSize": 20.5, "dx": 18}, "encoding": {"text": {"field": "r"}}}
   ]
  },
  {"data": {"name": "Cm"}, "mark": {"type": "point", "opacity": 0},
   "encoding": {
    "x": {"field": "x", "type": "quantitative", "scale": {"domain": [0, 1], "nice": false, "zero": false}, "axis": {"title": null, "orient": "top", "labels": false, "values": [0, 0.2, 0.4, 0.6, 0.8, 1]}},
    "y": {"field": "m", "type": "quantitative", "scale": {"domain": [-5, 3], "nice": false, "zero": false}, "axis": {"title": null, "orient": "right", "labels": false, "values": [-5, -4, -3, -2, -1, 0, 1, 2, 3]}}
   }}
 ],
 "resolve": {"axis": {"x": "independent", "y": "independent"}}
}
]
}
]
}
